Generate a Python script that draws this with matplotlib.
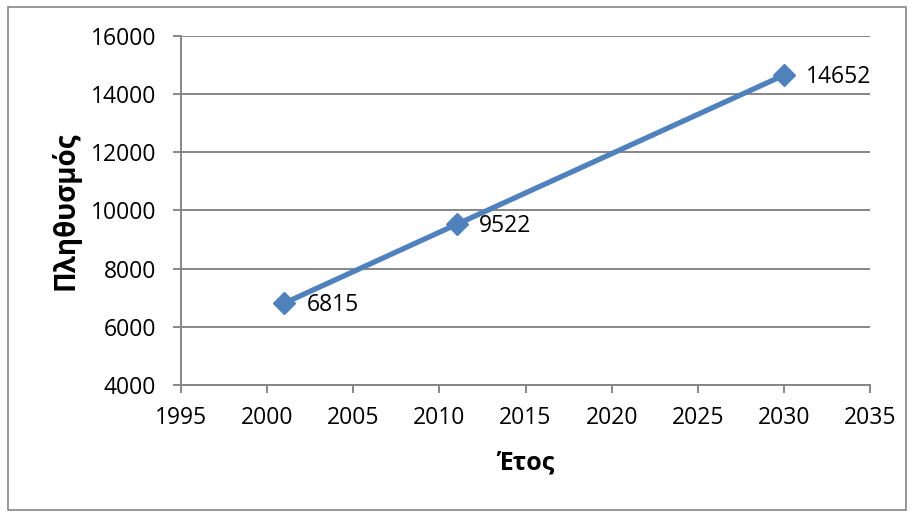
import matplotlib.pyplot as plt
from matplotlib.patches import Rectangle

# δεδομένα
etos = [2001, 2011, 2030]
plithysmos = [6815, 9522, 14652]
x_ticks = [1995, 2000, 2005, 2010, 2015, 2020, 2025, 2030, 2035]
y_ticks = [4000, 6000, 8000, 10000, 12000, 14000, 16000]

plt.rcParams['font.family'] = ['Open Sans', 'DejaVu Sans']

fig = plt.figure(figsize=(9.14, 5.13), dpi=100)
ax = fig.add_axes([0.198, 0.2495, 0.754, 0.6805])

grey = '#868686'
blue = '#4F81BD'

ax.plot(etos, plithysmos, color=blue, linewidth=3.8, marker='D', markersize=11,
        markerfacecolor=blue, markeredgecolor=blue, zorder=3, clip_on=False)

for x, y in zip(etos, plithysmos):
    ax.annotate(str(y), (x, y), xytext=(16, -1), textcoords='offset points',
                va='center', ha='left', fontsize=16.5)

ax.set_xlim(1995, 2035)
ax.set_ylim(4000, 16000)
ax.set_xticks(x_ticks)
ax.set_yticks(y_ticks)
ax.tick_params(axis='both', labelsize=16.5, colors=grey, labelcolor='black',
               length=6, width=1.4, direction='out')
ax.tick_params(axis='x', pad=9)
ax.tick_params(axis='y', pad=12)
ax.grid(axis='y', color=grey, linewidth=1.4)
ax.set_axisbelow(True)

for s in ['top', 'right']:
    ax.spines[s].set_visible(False)
for s in ['left', 'bottom']:
    ax.spines[s].set_color(grey)
    ax.spines[s].set_linewidth(1.4)

ax.set_xlabel('Έτος', fontsize=18, fontweight='bold', labelpad=15)
ax.set_ylabel('Πληθυσμός', fontsize=20, fontweight='bold', labelpad=7)

# πλαίσιο γραφήματος
fig.patches.append(Rectangle((0.009, 0.006), 0.982, 0.981, transform=fig.transFigure,
                             fill=False, edgecolor=grey, linewidth=1.2))

plt.savefig('out.png', dpi=100)
